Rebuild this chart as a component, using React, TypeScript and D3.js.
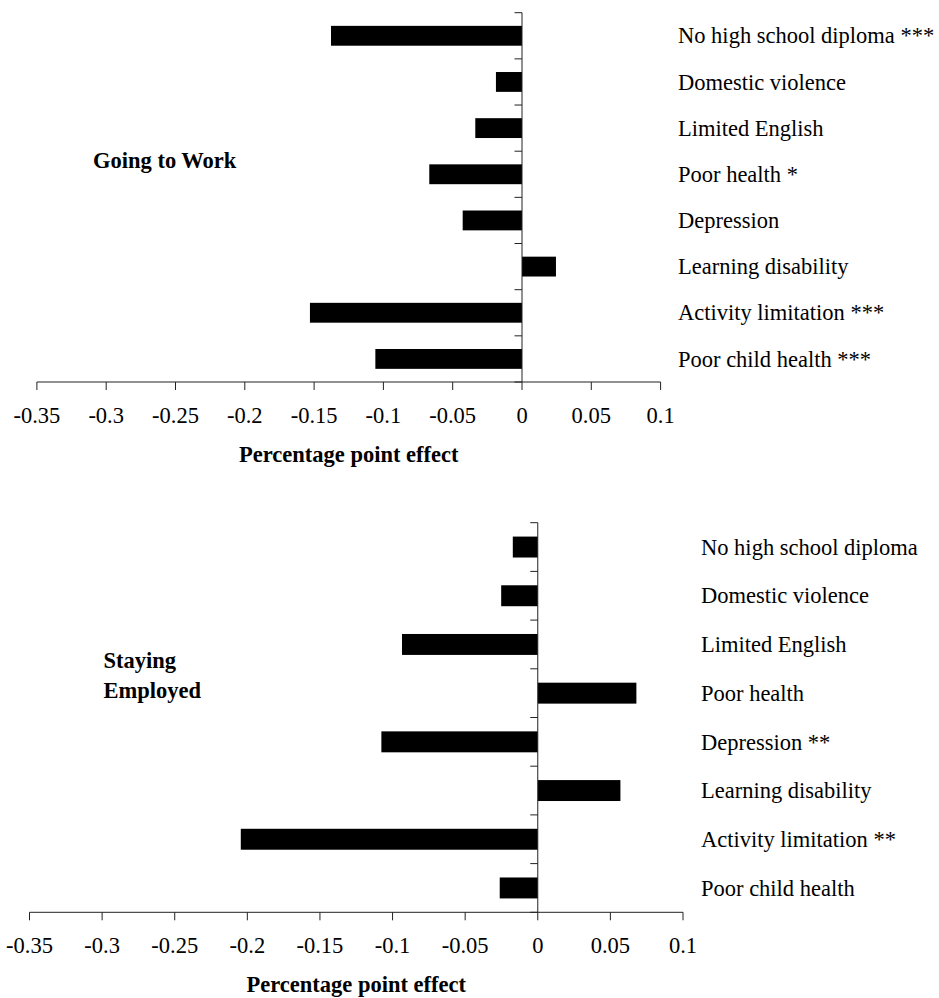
import React from "react";
import * as d3 from "d3";

const categories = [
  "No high school diploma",
  "Domestic violence",
  "Limited English",
  "Poor health",
  "Depression",
  "Learning disability",
  "Activity limitation",
  "Poor child health",
];

const workStars = ["***", "", "", "*", "", "", "***", "***"];
const workValues = [-0.1378, -0.0188, -0.0337, -0.0669, -0.0428, 0.0245, -0.153, -0.1058];

const stayStars = ["", "", "", "", "**", "", "**", ""];
const stayValues = [-0.0172, -0.0252, -0.0935, 0.0679, -0.1077, 0.0569, -0.2045, -0.0262];

const tickValues = [-0.35, -0.3, -0.25, -0.2, -0.15, -0.1, -0.05, 0, 0.05, 0.1];
const tickLabels = ["-0.35", "-0.3", "-0.25", "-0.2", "-0.15", "-0.1", "-0.05", "0", "0.05", "0.1"];

const axisTitle = "Percentage point effect";

const FONT = "'Times New Roman', 'Liberation Serif', serif";
const FS = 22.5;

type PanelProps = {
  values: number[];
  stars: string[];
  x0: number;
  x1: number;
  yTop: number;
  yBottom: number;
  labelX: number;
  title: string[];
  titleX: number;
  titleY: number;
};

function Panel({ values, stars, x0, x1, yTop, yBottom, labelX, title, titleX, titleY }: PanelProps) {
  const x = d3.scaleLinear().domain([tickValues[0], tickValues[tickValues.length - 1]]).range([x0, x1]);
  const y = d3
    .scaleBand<string>()
    .domain(categories)
    .range([yTop, yBottom])
    .paddingInner(0.57)
    .paddingOuter(0.285);
  const step = y.step();
  const zeroX = x(0);
  const boundaries = d3.range(categories.length + 1).map((i) => yTop + i * step);
  const titleCenter = (x0 + x1) / 2;
  return (
    <g>
      {values.map((v, i) => {
        const c = categories[i];
        const bx = Math.min(x(v), zeroX);
        const bw = Math.abs(x(v) - zeroX);
        return <rect key={c} x={bx} y={y(c)!} width={bw} height={y.bandwidth()} fill="#000" />;
      })}
      {/* y axis */}
      <line x1={zeroX} x2={zeroX} y1={yTop} y2={yBottom} stroke="#222" strokeWidth={1} />
      {boundaries.map((b, i) => (
        <line key={i} x1={zeroX - 7.5} x2={zeroX} y1={b} y2={b} stroke="#222" strokeWidth={1} />
      ))}
      {/* x axis */}
      <line x1={x0} x2={x1} y1={yBottom} y2={yBottom} stroke="#222" strokeWidth={1} />
      {tickValues.map((t, i) => (
        <g key={t}>
          <line x1={x(t)} x2={x(t)} y1={yBottom} y2={yBottom + 8} stroke="#222" strokeWidth={1} />
          <text x={x(t)} y={yBottom + 41} textAnchor="middle" fontFamily={FONT} fontSize={FS} fill="#000">
            {tickLabels[i]}
          </text>
        </g>
      ))}
      <text x={titleCenter} y={yBottom + 79.7} textAnchor="middle" fontFamily={FONT} fontSize={FS} fontWeight="bold" fill="#000">
        {axisTitle}
      </text>
      {/* category labels */}
      {categories.map((c, i) => (
        <text key={c} x={labelX} y={y(c)! + y.bandwidth() / 2 + 7.7} fontFamily={FONT} fontSize={FS} fill="#000">
          {stars[i] ? `${c} ${stars[i]}` : c}
        </text>
      ))}
      {title.map((t, i) => (
        <text key={t} x={titleX} y={titleY + i * 30} fontFamily={FONT} fontSize={FS} fontWeight="bold" fill="#000">
          {t}
        </text>
      ))}
    </g>
  );
}

export default function App() {
  return (
    <svg
      width={939}
      height={998}
      style={{ position: "absolute", left: 0, top: 0, background: "#fff" }}
      xmlns="http://www.w3.org/2000/svg"
    >
      <rect x={0} y={0} width={939} height={998} fill="#fff" />
      <Panel
        values={workValues}
        stars={workStars}
        x0={36.9}
        x1={660.6}
        yTop={12.7}
        yBottom={382}
        labelX={678}
        title={["Going to Work"]}
        titleX={93}
        titleY={168}
      />
      <Panel
        values={stayValues}
        stars={stayStars}
        x0={29.5}
        x1={683}
        yTop={522.7}
        yBottom={912.3}
        labelX={701}
        title={["Staying", "Employed"]}
        titleX={103.6}
        titleY={668}
      />
    </svg>
  );
}
